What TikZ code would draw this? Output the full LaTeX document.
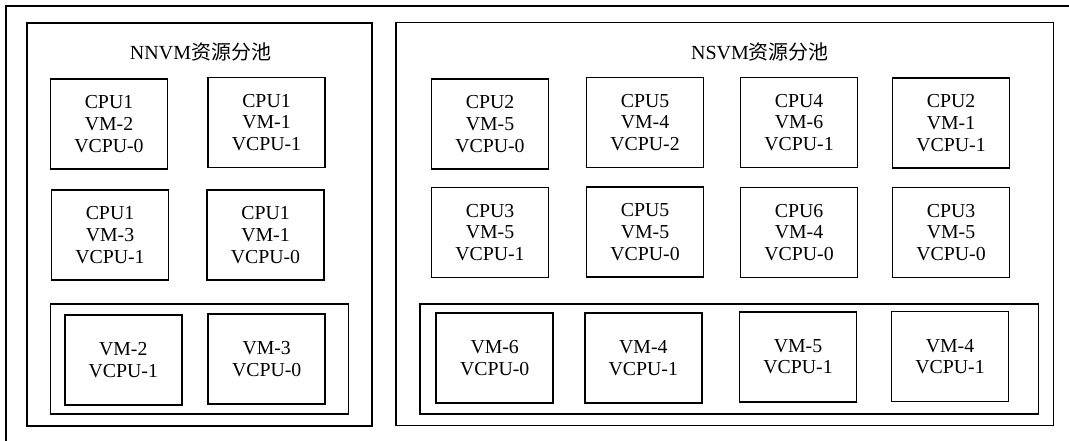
\documentclass[tikz,border=0pt]{standalone}
\usepackage{fontspec}
\setmainfont{Liberation Serif}
\newfontfamily\cjk{Noto Sans CJK SC}
\usetikzlibrary{positioning}

\begin{document}
\begin{tikzpicture}[x=1pt,y=-1pt,
                    pool/.style={draw,line width=1.4pt,inner sep=0pt},
                    grp/.style={draw,line width=1.4pt,inner sep=0pt,minimum height=110pt},
                    cpu/.style={draw,line width=1.8pt,minimum width=117pt,minimum height=90pt,align=center,inner sep=0pt,
                                font=\fontsize{19.8}{21.7}\selectfont},
                    ttl/.style={font=\fontsize{20}{22}\selectfont,inner sep=0pt}]
                                \clip (0,0) rectangle (1069,441);
                                \draw[line width=2.2pt] (6,6) rectangle (1090,460);

                                % NNVM pool
                                \node[pool,minimum width=345pt,minimum height=403pt] (p1) at (199.3,224.5) {};
                                \node[ttl] (t1) at (200.5,52) {NNVM{\cjk 资源分池}};
                                \node[cpu] (a1) at (109,124) {CPU1\\VM-2\\VCPU-0};
                                \node[cpu] (a2) at (266.5,122.5) {CPU1\\VM-1\\VCPU-1};
                                \node[cpu] (a3) at (110,235) {CPU1\\VM-3\\VCPU-1};
                                \node[cpu] (a4) at (265.5,235) {CPU1\\VM-1\\VCPU-0};
                                \node[grp,minimum width=297.6pt] (g1) at (199.5,359) {};
                                \node[cpu] (a5) at (123.3,360.3) {VM-2\\VCPU-1};
                                \node[cpu] (a6) at (266.7,359) {VM-3\\VCPU-0};

                                % NSVM pool
                                \node[pool,minimum width=657.3pt,minimum height=403pt] (p2) at (724.7,224.2) {};
                                \node[ttl] (t2) at (760,52) {NSVM{\cjk 资源分池}};
                                \node[cpu] (b1) at (490,124) {CPU2\\VM-5\\VCPU-0};
                                \node[cpu] (b2) at (645,122.5) {CPU5\\VM-4\\VCPU-2};
                                \node[cpu] (b3) at (799,122.5) {CPU4\\VM-6\\VCPU-1};
                                \node[cpu] (b4) at (951,123) {CPU2\\VM-1\\VCPU-1};
                                \node[cpu] (b5) at (490,232.5) {CPU3\\VM-5\\VCPU-1};
                                \node[cpu] (b6) at (645,232) {CPU5\\VM-5\\VCPU-0};
                                \node[cpu] (b7) at (799,232.5) {CPU6\\VM-4\\VCPU-0};
                                \node[cpu] (b8) at (951,232.5) {CPU3\\VM-5\\VCPU-0};
                                \node[grp,minimum width=618.3pt] (g2) at (729.2,359) {};
                                \node[cpu] (b9) at (494.7,358.3) {VM-6\\VCPU-0};
                                \node[cpu] (b10) at (643.3,358) {VM-4\\VCPU-1};
                                \node[cpu] (b11) at (798,356.8) {VM-5\\VCPU-1};
                                \node[cpu] (b12) at (950,356.5) {VM-4\\VCPU-1};
                            \end{tikzpicture}
\end{document}
